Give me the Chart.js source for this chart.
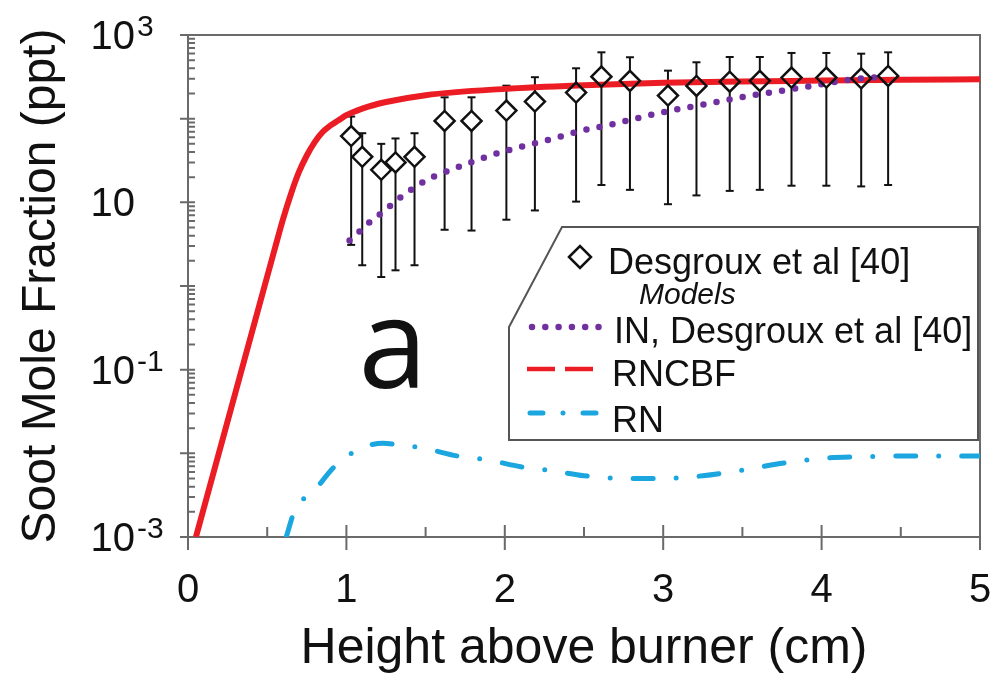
<!DOCTYPE html>
<html>
<head>
<meta charset="utf-8">
<script src="https://cdn.jsdelivr.net/npm/chart.js@4/dist/chart.umd.min.js"></script>
<style>
  html, body { margin: 0; padding: 0; background: #fff; }
  #wrap { width: 994px; height: 675px; }
</style>
</head>
<body>
<div id="wrap"><canvas id="soot" width="994" height="675"></canvas></div>
<script>
// Desgroux et al [40] measurements (ppt) with error bars
const expX  = [1.03, 1.10, 1.22, 1.31, 1.43, 1.62, 1.79, 2.01, 2.19, 2.45, 2.61, 2.79, 3.03, 3.21, 3.42, 3.61, 3.81, 4.03, 4.25, 4.42]
const expY  = [62, 35, 24.5, 30, 35, 94, 94, 125, 160, 205, 318, 283, 189, 246, 277, 283, 310, 310, 304, 324]
const expHi = [106, 67, 50, 58, 67, 180, 180, 248, 313, 400, 621, 542, 375, 472, 546, 546, 610, 610, 598, 621]
const expLo = [3.1, 1.77, 1.28, 1.54, 1.77, 4.7, 4.6, 6.2, 8.0, 10.2, 16.1, 14.1, 9.5, 12.1, 13.7, 14.1, 15.8, 15.8, 15.5, 16.1]

// IN model, Desgroux et al [40]
const inX = [1.02, 1.09, 1.16, 1.24, 1.31, 1.39, 1.47, 1.56, 1.65, 1.74, 1.83, 1.92, 2.11, 2.30, 2.48, 2.68, 2.86, 3.05, 3.24, 3.43, 3.62, 3.81, 4.01, 4.19, 4.40]
const inY = [3.5, 4.6, 6.1, 7.9, 10.3, 13.4, 16.8, 20.7, 24, 27.9, 32.2, 37, 46.5, 57.4, 71.4, 85.9, 104, 125, 146, 171, 198, 225, 260, 295, 316]

// RNCBF model
const rncbfX = [0.05, 0.3, 0.55, 0.6, 0.65, 0.7, 0.75, 0.8, 0.85, 0.9, 0.95, 1.0, 1.1, 1.25, 1.5, 2.0, 2.5, 3.0, 3.5, 4.0, 4.5, 5.0]
const rncbfY = [0.001, 0.0537, 2.88, 6.31, 12.6, 22.9, 36.3, 52.5, 69.2, 83.2, 95.5, 110, 132, 158, 191, 227, 251, 269, 279, 285, 292, 295]

// RN model
const rnX = [0.62, 0.68, 0.78, 0.94, 1.08, 1.23, 1.34, 1.49, 1.7, 1.9, 2.1, 2.3, 2.5, 2.75, 3.0, 3.25, 3.5, 3.75, 4.0, 4.25, 4.5, 5.0]
const rnY = [0.001, 0.00224, 0.00331, 0.00741, 0.0112, 0.0132, 0.0126, 0.0115, 0.0093, 0.0083, 0.0069, 0.0062, 0.0054, 0.0050, 0.0050, 0.0054, 0.0063, 0.0076, 0.0087, 0.0091, 0.0093, 0.0093]

// axis ticks
const xTicks = [0, 1, 2, 3, 4, 5]
const yTickValues = [1e3, 10, 1e-1, 1e-3]
const yTickExps = ["3", "", "-1", "-3"]

const RED = "#ec1c24"
const PURPLE = "#7030a0"
const BLUE = "#1ba6e0"
const AXIS = "#6a6a6a"
const FONT = "'Liberation Sans', Arial, sans-serif"

const pts = (xs, ys) => xs.map((x, i) => ({ x: x, y: ys[i] }))

// error bars: low/high pairs broken by a null point
const errData = []
expX.forEach((x, i) => {
  errData.push({ x: x, y: expLo[i] }, { x: x, y: expHi[i] }, { x: x, y: null })
})

const decor = {
  id: "decor",
  beforeDatasetsDraw(chart) {
    const { ctx, chartArea: a, scales } = chart
    const xs = scales.x, ys = scales.y
    ctx.save()
    ctx.strokeStyle = AXIS
    ctx.lineWidth = 2
    ctx.beginPath()
    ctx.rect(a.left, a.top, a.right - a.left, a.bottom - a.top)
    ctx.stroke()

    // x ticks: major at integers, minor at halves
    ctx.beginPath()
    xTicks.forEach((v) => {
      const px = xs.getPixelForValue(v)
      ctx.moveTo(px, a.bottom - 12)
      ctx.lineTo(px, a.bottom + 13)
      if (v < 5) {
        const mx = xs.getPixelForValue(v + 0.5)
        ctx.moveTo(mx, a.bottom - 10)
        ctx.lineTo(mx, a.bottom)
      }
    })
    // y ticks: major every decade, minor inside
    for (let k = -3; k <= 3; k++) {
      const py = ys.getPixelForValue(Math.pow(10, k))
      ctx.moveTo(a.left - 8, py)
      ctx.lineTo(a.left + 7, py)
      if (k < 3) {
        for (let m = 2; m <= 9; m++) {
          const my = ys.getPixelForValue(m * Math.pow(10, k))
          ctx.moveTo(a.left, my)
          ctx.lineTo(a.left + 7, my)
        }
      }
    }
    ctx.stroke()

    // tick labels
    ctx.fillStyle = "#111"
    ctx.font = "40px " + FONT
    ctx.textAlign = "center"
    ctx.textBaseline = "alphabetic"
    xTicks.forEach((v) => {
      ctx.fillText(String(v), xs.getPixelForValue(v), 602)
    })
    yTickValues.forEach((v, i) => {
      const py = ys.getPixelForValue(v)
      ctx.font = "40px " + FONT
      ctx.textAlign = "right"
      ctx.fillText("10", 135, py + 14)
      if (yTickExps[i]) {
        ctx.font = "30px " + FONT
        ctx.textAlign = "left"
        ctx.fillText(yTickExps[i], 137, py + 1)
      }
    })

    // axis titles
    ctx.textAlign = "center"
    ctx.font = "50px " + FONT
    ctx.fillText("Height above burner (cm)", (a.left + a.right) / 2, 663)
    ctx.save()
    ctx.translate(55, (a.top + a.bottom) / 2)
    ctx.rotate(-Math.PI / 2)
    ctx.font = "48px " + FONT
    ctx.fillText("Soot Mole Fraction (ppt)", 0, 0)
    ctx.restore()

    // panel letter
    ctx.font = "124px 'Open Sans', sans-serif"
    ctx.fillText("a", 393, 388)
    ctx.restore()
  },
  afterDraw(chart) {
    const { ctx } = chart
    ctx.save()
    // legend box with cut corner
    ctx.beginPath()
    ctx.moveTo(562, 227)
    ctx.lineTo(978, 227)
    ctx.lineTo(978, 440)
    ctx.lineTo(509, 440)
    ctx.lineTo(509, 327)
    ctx.closePath()
    ctx.fillStyle = "#fff"
    ctx.fill()
    ctx.strokeStyle = "#555"
    ctx.lineWidth = 2
    ctx.stroke()

    // diamond marker
    ctx.beginPath()
    ctx.moveTo(569, 257)
    ctx.lineTo(580, 246)
    ctx.lineTo(591, 257)
    ctx.lineTo(580, 268)
    ctx.closePath()
    ctx.strokeStyle = "#111"
    ctx.lineWidth = 2.5
    ctx.stroke()

    // line samples
    ctx.lineCap = "round"
    ctx.strokeStyle = PURPLE
    ctx.lineWidth = 6.5
    ctx.setLineDash([0, 13.3])
    ctx.beginPath(); ctx.moveTo(532, 327); ctx.lineTo(599, 327); ctx.stroke()

    ctx.lineCap = "butt"
    ctx.strokeStyle = RED
    ctx.lineWidth = 4.5
    ctx.setLineDash([28, 10])
    ctx.beginPath(); ctx.moveTo(527, 369); ctx.lineTo(597, 369); ctx.stroke()

    ctx.lineCap = "round"
    ctx.strokeStyle = BLUE
    ctx.lineWidth = 5
    ctx.setLineDash([13, 20, 0, 20])
    ctx.beginPath(); ctx.moveTo(530, 413); ctx.lineTo(598, 413); ctx.stroke()
    ctx.setLineDash([])

    // legend text
    ctx.fillStyle = "#111"
    ctx.textAlign = "left"
    ctx.font = "36px " + FONT
    ctx.fillText("Desgroux et al [40]", 608, 274)
    ctx.fillText("IN, Desgroux et al [40]", 614, 343)
    ctx.fillText("RNCBF", 612, 386)
    ctx.fillText("RN", 612, 432)
    ctx.font = "italic 30px " + FONT
    ctx.fillText("Models", 639, 304)
    ctx.restore()
  }
}

new Chart(document.getElementById("soot"), {
  type: "line",
  data: {
    datasets: [
      {
        label: "error bars",
        data: errData,
        borderColor: "#111",
        borderWidth: 2,
        pointStyle: "line",
        pointRadius: 4,
        pointBorderWidth: 2,
        pointBorderColor: "#111",
        spanGaps: false,
        order: 6
      },
      {
        label: "Desgroux fill",
        data: pts(expX, expY),
        showLine: false,
        pointStyle: "rectRot",
        pointRadius: 10,
        pointBackgroundColor: "#fff",
        pointBorderWidth: 0,
        order: 5
      },
      {
        label: "RNCBF",
        data: pts(rncbfX, rncbfY),
        borderColor: RED,
        borderWidth: 6,
        pointRadius: 0,
        cubicInterpolationMode: "monotone",
        order: 4
      },
      {
        label: "IN, Desgroux et al [40]",
        data: pts(inX, inY),
        borderColor: PURPLE,
        borderWidth: 6.5,
        borderDash: [0, 13.3],
        borderCapStyle: "round",
        pointRadius: 0,
        cubicInterpolationMode: "monotone",
        order: 3
      },
      {
        label: "RN",
        data: pts(rnX, rnY),
        borderColor: BLUE,
        borderWidth: 5,
        borderDash: [20, 23, 0, 23],
        borderCapStyle: "round",
        pointRadius: 0,
        cubicInterpolationMode: "monotone",
        order: 3
      },
      {
        label: "Desgroux et al [40]",
        data: pts(expX, expY),
        showLine: false,
        pointStyle: "rectRot",
        pointRadius: 10,
        pointBackgroundColor: "rgba(0,0,0,0)",
        pointBorderColor: "#111",
        pointBorderWidth: 2.5,
        order: 1
      }
    ]
  },
  options: {
    responsive: false,
    devicePixelRatio: 1,
    animation: false,
    events: [],
    layout: { padding: { left: 188, top: 35, right: 14, bottom: 138 } },
    plugins: { legend: { display: false }, tooltip: { enabled: false } },
    scales: {
      x: { type: "linear", min: 0, max: 5, display: false },
      y: { type: "logarithmic", min: 1e-3, max: 1e3, display: false }
    }
  },
  plugins: [decor]
})
</script>
</body>
</html>
